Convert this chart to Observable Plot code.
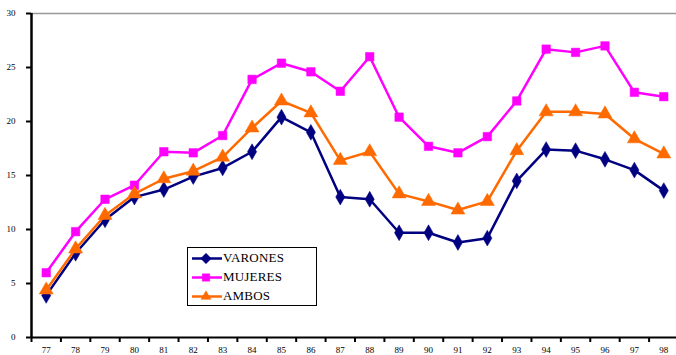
<!DOCTYPE html>
<html>
<head>
<meta charset="utf-8">
<script src="https://cdn.jsdelivr.net/npm/d3@7"></script>
<script src="https://cdn.jsdelivr.net/npm/@observablehq/plot@0.6"></script>
<style>
  html, body { margin: 0; padding: 0; background: #fff; }
  #wrap { position: relative; width: 676px; height: 355px; overflow: hidden; }
  #legend { position: absolute; left: 187px; top: 247px; width: 128px; height: 57px;
            border: 1.5px solid #000; background: #fff; }
  #legend .row { position: absolute; left: 3px; height: 19px; display: flex; align-items: center; }
  #legend span { font-family: "Liberation Serif", "Times New Roman", serif; font-size: 13px; color: #000; letter-spacing: 0.2px; }
  #legend svg { display: block; }
</style>
</head>
<body>
<div id="wrap"><div id="chart"></div><div id="legend"></div></div>
<script>
// Years (19xx) along the horizontal axis
const years = ["77","78","79","80","81","82","83","84","85","86","87","88","89","90","91","92","93","94","95","96","97","98"];
// Rates per group
const varones = [3.9, 7.8, 10.9, 13.0, 13.7, 14.9, 15.7, 17.2, 20.4, 19.0, 13.0, 12.8, 9.7, 9.7, 8.8, 9.2, 14.5, 17.4, 17.3, 16.5, 15.5, 13.6];
const mujeres = [6.0, 9.8, 12.8, 14.1, 17.2, 17.1, 18.7, 23.9, 25.4, 24.6, 22.8, 26.0, 20.4, 17.7, 17.1, 18.6, 21.9, 26.7, 26.4, 27.0, 22.7, 22.3];
const ambos   = [4.4, 8.2, 11.3, 13.3, 14.7, 15.4, 16.7, 19.4, 21.9, 20.8, 16.4, 17.2, 13.3, 12.6, 11.8, 12.6, 17.3, 20.9, 20.9, 20.7, 18.4, 17.0];
const yTicks = [0, 5, 10, 15, 20, 25, 30];

const series = [
  {name: "VARONES", values: varones, color: "#000080", symbol: "diamond", r: 4.8},
  {name: "MUJERES", values: mujeres, color: "#ff00ff", symbol: "square", r: 4.8},
  {name: "AMBOS",   values: ambos,   color: "#ff6a00", symbol: "triangle", r: 5.2}
];

const rows = series.flatMap(s => s.values.map((v, i) => ({serie: s.name, i, v})));
const boundaries = d3.range(years.length + 1).map(i => i - 0.5);

const marks = [
  Plot.ruleY([30], {stroke: "#999", strokeWidth: 1.5}),
  Plot.axisY({ticks: yTicks, label: null, tickSize: 5, tickPadding: 11, fontSize: 9, stroke: "#000", strokeWidth: 2}),
  Plot.axisX({ticks: boundaries, label: null, tickFormat: () => "", tickSize: 5, stroke: "#000", strokeWidth: 2}),
  Plot.axisX({ticks: d3.range(years.length), label: null, tickFormat: i => years[i], tickSize: 0, tickPadding: 9, fontSize: 9}),
  Plot.ruleY([0], {stroke: "#000", strokeWidth: 2}),
  Plot.ruleX([-0.5], {stroke: "#000", strokeWidth: 2.5})
];
for (const s of series) {
  const d = rows.filter(r => r.serie === s.name);
  marks.push(Plot.line(d, {x: "i", y: "v", stroke: s.color, strokeWidth: 2.5}));
  marks.push(Plot.dot(d, {x: "i", y: "v", fill: s.color, stroke: s.color, strokeWidth: 0.5, symbol: () => s.symbol, r: s.r}));
}

const chart = Plot.plot({
  width: 676,
  height: 355,
  marginLeft: 31,
  marginRight: -2,
  marginTop: 13,
  marginBottom: 18,
  style: {fontFamily: "Liberation Serif, serif", color: "#000", background: "#fff"},
  x: {domain: [-0.5, years.length - 0.5], axis: null},
  y: {domain: [0, 30], axis: null},
  marks
});
document.getElementById("chart").appendChild(chart);

// Legend
const legend = d3.select("#legend");
const symbolGen = {diamond: d3.symbolDiamond2, square: d3.symbolSquare2, triangle: d3.symbolTriangle2};
series.forEach((s, k) => {
  const row = legend.append("div").attr("class", "row").style("top", (0.5 + k * 19) + "px");
  const svg = row.append("svg").attr("width", 32).attr("height", 19);
  svg.append("line").attr("x1", 1).attr("x2", 31).attr("y1", 9.5).attr("y2", 9.5)
    .attr("stroke", s.color).attr("stroke-width", 2.5);
  svg.append("path").attr("transform", "translate(15,9.5)")
    .attr("d", d3.symbol(symbolGen[s.symbol], 70)())
    .attr("fill", s.color).attr("stroke", s.color).attr("stroke-width", 0.5);
  row.append("span").text(s.name);
});
</script>
</body>
</html>
